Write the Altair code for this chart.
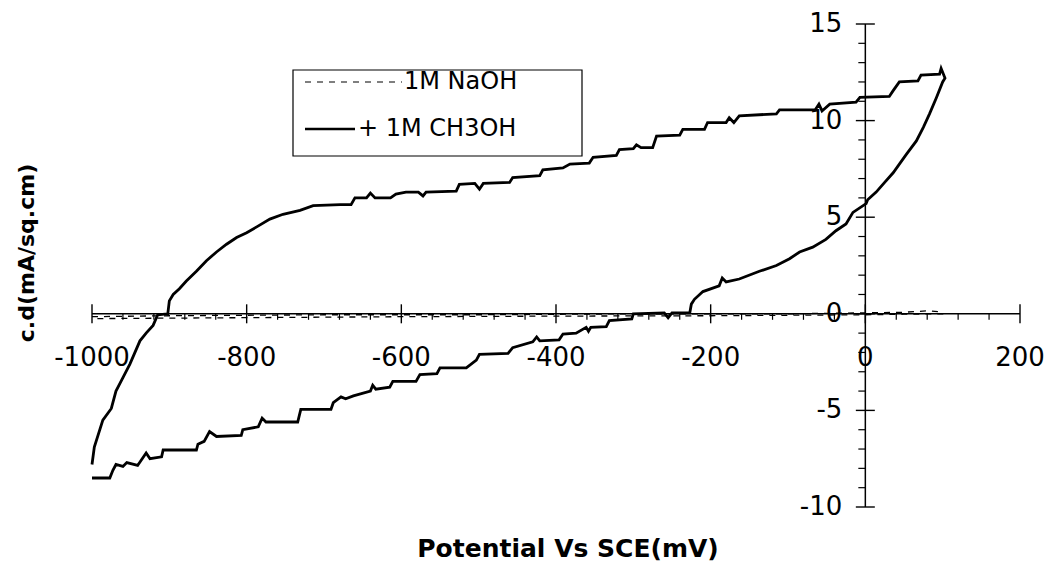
import altair as alt
import pandas as pd

# Cyclic voltammogram: 1M NaOH + 1M CH3OH (solid) and 1M NaOH alone (dashed)
meoh_mv = [
    -1000, -997, -986, -975, -969, -960, -951, -938, -930, -921, -915, -902,
    -900, -895, -887, -878, -865, -852, -839, -826, -813, -800, -787, -770,
    -753, -731, -714, -679, -665, -660, -645, -640, -634, -614, -607, -594,
    -578, -572, -568, -529, -525, -505, -499, -494, -460, -456, -421, -417,
    -391, -382, -357, -352, -322, -318, -300, -296, -290, -275, -270, -240,
    -236, -208, -204, -180, -176, -170, -163, -115, -111, -65, -60, -56,
    -46, -12, -7, 31, 36, 44, 68, 72, 96, 98, 103,
    100, 92, 83, 75, 66, 53, 44, 36, 25, 14, 3, 1, -16, -25, -38, -51,
    -68, -85, -98, -115, -137, -163, -180, -185, -189, -210, -221, -225,
    -227, -250, -255, -260, -300, -302, -331, -335, -355, -358, -361, -374,
    -391, -396, -421, -425, -430, -456, -462, -499, -503, -516, -550, -554,
    -576, -581, -611, -615, -633, -637, -640, -662, -672, -678, -688, -691,
    -730, -734, -775, -780, -785, -805, -807, -839, -848, -855, -863, -865,
    -908, -910, -925, -930, -941, -955, -960, -969, -973, -977, -1000,
]
meoh_cd = [
    -7.8, -6.9, -5.5, -4.9, -4.0, -3.3, -2.6, -1.4, -1.0, -0.6, -0.05, 0.0,
    0.67, 1.0, 1.3, 1.7, 2.2, 2.75, 3.2, 3.6, 3.95, 4.2, 4.5, 4.9,
    5.15, 5.35, 5.6, 5.65, 5.65, 6.0, 6.0, 6.25, 6.0, 6.0, 6.2, 6.3,
    6.3, 6.1, 6.3, 6.35, 6.7, 6.75, 6.45, 6.75, 6.8, 7.05, 7.15, 7.45,
    7.55, 7.75, 7.8, 8.1, 8.2, 8.5, 8.55, 8.75, 8.6, 8.6, 9.2, 9.25,
    9.55, 9.55, 9.9, 9.9, 10.15, 9.9, 10.25, 10.35, 10.55, 10.55, 10.85, 10.5,
    10.85, 10.95, 11.2, 11.25, 11.55, 12.0, 12.05, 12.35, 12.4, 12.7, 12.2,
    12.0, 11.2, 10.35, 9.65, 8.95, 8.25, 7.75, 7.3, 6.8, 6.3, 5.9, 5.7, 5.25, 4.65, 4.3, 3.85,
    3.45, 3.2, 2.85, 2.5, 2.2, 1.8, 1.65, 1.85, 1.45, 1.15, 0.75, 0.5,
    0.05, 0.05, -0.2, 0.05, 0.0, -0.27, -0.35, -0.67, -0.7, -0.9, -0.7, -1.0,
    -1.05, -1.35, -1.4, -1.2, -1.45, -1.75, -2.05, -2.1, -2.4, -2.8, -2.8, -3.1,
    -3.15, -3.5, -3.5, -3.8, -3.9, -3.7, -4.0, -4.25, -4.4, -4.3, -4.6, -4.95,
    -4.95, -5.6, -5.6, -5.4, -5.85, -6.0, -6.3, -6.35, -6.1, -6.6, -6.75, -7.05,
    -7.05, -7.4, -7.5, -7.2, -7.85, -7.7, -7.9, -7.8, -8.1, -8.5, -8.5,
]
naoh_mv = [-1000, -900, -700, -500, -300, -100, 0, 50, 80, 100,
           100, 50, 0, -200, -400, -600, -800, -1000]
naoh_cd = [-0.15, -0.1, -0.05, -0.05, 0.0, 0.0, 0.05, 0.08, 0.15, 0.1,
           0.0, -0.02, -0.05, -0.1, -0.12, -0.15, -0.2, -0.25]

x_major = [-1000, -800, -600, -400, -200, 0, 200]
x_labels = ["-1000", "-800", "-600", "-400", "-200", "0", "200"]
y_major = [15, 10, 5, 0, -5, -10]
y_labels = ["15", "10", "5", "0", "-5", "-10"]
x_minor = [v for v in range(-1000, 201, 40) if v % 200]
y_minor = [v for v in range(-10, 16) if v % 5]

legend_labels = ["1M NaOH", "+ 1M CH3OH"]

W, H = 928, 483
xs = alt.Scale(domain=[-1000, 200], nice=False, zero=False)
ys = alt.Scale(domain=[-10, 15], nice=False, zero=False)
FONT = "DejaVu Sans"

meoh = pd.DataFrame({"mv": meoh_mv, "cd": meoh_cd, "i": range(len(meoh_mv))})
naoh = pd.DataFrame({"mv": naoh_mv, "cd": naoh_cd, "i": range(len(naoh_mv))})


def X(f):
    return alt.X(f, type="quantitative", scale=xs, axis=None)


def Y(f):
    return alt.Y(f, type="quantitative", scale=ys, axis=None)


solid = alt.Chart(meoh).mark_line(color="black", strokeWidth=2.8, strokeJoin="miter").encode(
    x=X("mv"), y=Y("cd"), order="i:Q"
)
dashed = alt.Chart(naoh).mark_line(color="black", strokeWidth=1.3, strokeDash=[6, 6]).encode(
    x=X("mv"), y=Y("cd"), order="i:Q"
)

# axis lines crossing at the origin
axes_df = pd.DataFrame({"x0": [-1000, 0], "x1": [200, 0], "y0": [0, -10], "y1": [0, 15]})
axis_lines = alt.Chart(axes_df).mark_rule(color="black", strokeWidth=1.5).encode(
    x=X("x0"), x2="x1", y=Y("y0"), y2="y1"
)

xmaj = pd.DataFrame({"v": x_major, "z": 0, "lab": x_labels})
ymaj = pd.DataFrame({"v": y_major, "z": 0, "lab": y_labels})
xmin = pd.DataFrame({"v": x_minor, "z": 0})
ymin = pd.DataFrame({"v": y_minor, "z": 0})

x_major_ticks = alt.Chart(xmaj).mark_tick(
    orient="vertical", size=19, thickness=1.4, color="black", opacity=1
).encode(x=X("v"), y=Y("z"))
x_minor_ticks = alt.Chart(xmin).mark_tick(
    orient="vertical", size=6, thickness=1.2, color="black", opacity=1, yOffset=3
).encode(x=X("v"), y=Y("z"))
y_major_ticks = alt.Chart(ymaj).mark_tick(
    orient="horizontal", size=19, thickness=1.4, color="black", opacity=1
).encode(x=X("z"), y=Y("v"))
y_minor_ticks = alt.Chart(ymin).mark_tick(
    orient="horizontal", size=7, thickness=1.2, color="black", opacity=1, xOffset=-3.5
).encode(x=X("z"), y=Y("v"))

x_tick_text = alt.Chart(xmaj).mark_text(
    font=FONT, fontSize=26, color="black", dy=44, align="center", baseline="middle"
).encode(x=X("v"), y=Y("z"), text="lab:N")
y_tick_text = alt.Chart(ymaj).mark_text(
    font=FONT, fontSize=26, color="black", dx=-23, align="right", baseline="middle"
).encode(x=X("z"), y=Y("v"), text="lab:N")

one = pd.DataFrame({"k": [0]})
x_title = alt.Chart(one).mark_text(
    font=FONT, fontSize=25, fontWeight="bold", color="black",
    align="center", baseline="middle"
).encode(x=alt.value(476), y=alt.value(525), text=alt.value("Potential Vs SCE(mV)"))
y_title = alt.Chart(one).mark_text(
    font=FONT, fontSize=22, fontWeight="bold", color="black",
    align="center", baseline="middle", angle=270
).encode(x=alt.value(-65), y=alt.value(229), text=alt.value("c.d(mA/sq.cm)"))

# legend box
legend_box = alt.Chart(one).mark_rect(fill="white", stroke="black", strokeWidth=1.2).encode(
    x=alt.value(201), x2=alt.value(490), y=alt.value(46), y2=alt.value(132)
)
legend_dash = alt.Chart(one).mark_rule(color="black", strokeWidth=1.2, strokeDash=[6, 6]).encode(
    x=alt.value(213), x2=alt.value(310), y=alt.value(58)
)
legend_solid = alt.Chart(one).mark_rule(color="black", strokeWidth=2.4).encode(
    x=alt.value(213), x2=alt.value(263), y=alt.value(105)
)
legend_t1 = alt.Chart(one).mark_text(
    font=FONT, fontSize=24, color="black", align="left", baseline="middle"
).encode(x=alt.value(312), y=alt.value(58), text=alt.value(legend_labels[0]))
legend_t2 = alt.Chart(one).mark_text(
    font=FONT, fontSize=24, color="black", align="left", baseline="middle"
).encode(x=alt.value(266), y=alt.value(105), text=alt.value(legend_labels[1]))

chart = alt.layer(
    dashed, solid, axis_lines, x_major_ticks, x_minor_ticks, y_major_ticks, y_minor_ticks,
    x_tick_text, y_tick_text, x_title, y_title,
    legend_box, legend_dash, legend_solid, legend_t1, legend_t2,
).properties(
    width=W, height=H,
    padding={"left": 92, "top": 24, "right": 28, "bottom": 66},
    autosize=alt.AutoSizeParams(type="none"),
    background="white",
).configure_view(stroke=None)

chart.save("out.html", embed_options={"renderer": "svg", "actions": False})
